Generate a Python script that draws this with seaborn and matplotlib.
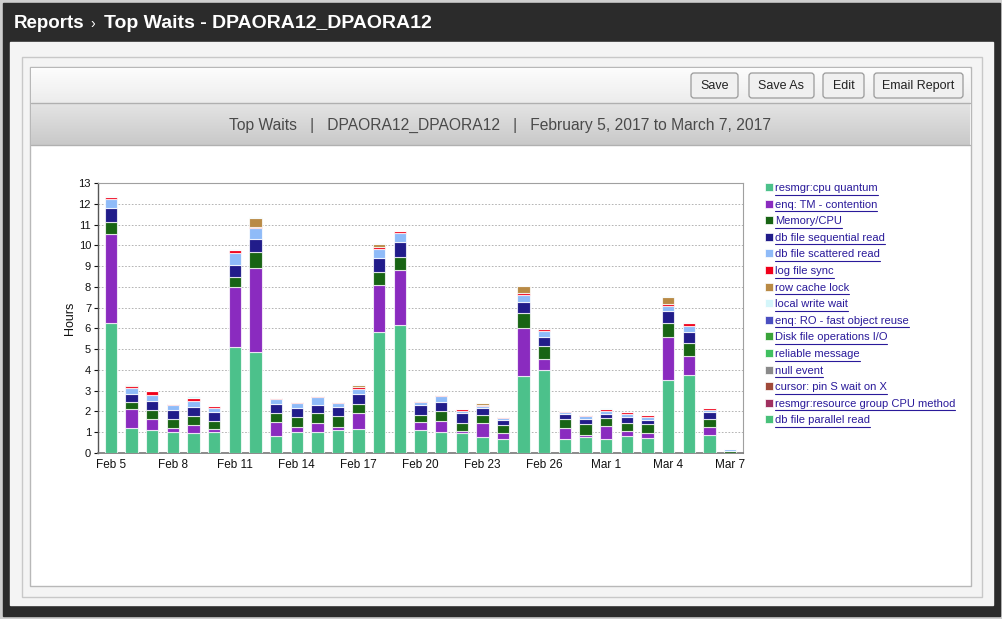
import matplotlib
matplotlib.use("Agg")
import matplotlib.pyplot as plt
from matplotlib.patches import Rectangle, FancyBboxPatch
import numpy as np
import pandas as pd
import seaborn as sns

# ---- data (hours per day) ----
days = ["Feb 5", "Feb 6", "Feb 7", "Feb 8", "Feb 9", "Feb 10", "Feb 11", "Feb 12",
        "Feb 13", "Feb 14", "Feb 15", "Feb 16", "Feb 17", "Feb 18", "Feb 19", "Feb 20",
        "Feb 21", "Feb 22", "Feb 23", "Feb 24", "Feb 25", "Feb 26", "Feb 27", "Feb 28",
        "Mar 1", "Mar 2", "Mar 3", "Mar 4", "Mar 5", "Mar 6", "Mar 7"]
tick_days = ["Feb 5", "Feb 8", "Feb 11", "Feb 14", "Feb 17", "Feb 20", "Feb 23",
             "Feb 26", "Mar 1", "Mar 4", "Mar 7"]

cpu_quantum = [6.24, 1.19, 1.09, 1.00, 0.95, 1.00, 5.12, 4.85, 0.83, 1.03, 1.00, 1.11, 1.16, 5.81, 6.16, 1.09,
               1.00, 0.95, 0.75, 0.69, 3.69, 3.98, 0.69, 0.79, 0.66, 0.80, 0.71, 3.50, 3.74, 0.88, 0.00]
tm_contention = [4.29, 0.91, 0.53, 0.19, 0.40, 0.14, 2.86, 4.04, 0.65, 0.24, 0.43, 0.16, 0.75, 2.26, 2.65, 0.39,
                 0.54, 0.09, 0.68, 0.26, 2.35, 0.53, 0.50, 0.09, 0.62, 0.24, 0.24, 2.10, 0.91, 0.36, 0.00]
memory_cpu = [0.61, 0.34, 0.43, 0.43, 0.42, 0.38, 0.51, 0.77, 0.46, 0.45, 0.51, 0.50, 0.45, 0.63, 0.64, 0.37,
              0.46, 0.40, 0.38, 0.38, 0.69, 0.63, 0.43, 0.50, 0.39, 0.39, 0.43, 0.68, 0.63, 0.38, 0.11]
seq_read = [0.67, 0.42, 0.44, 0.45, 0.46, 0.44, 0.58, 0.66, 0.40, 0.46, 0.39, 0.43, 0.47, 0.67, 0.71, 0.45,
            0.44, 0.47, 0.34, 0.24, 0.56, 0.46, 0.24, 0.27, 0.22, 0.32, 0.22, 0.57, 0.56, 0.34, 0.00]
scattered_read = [0.40, 0.29, 0.29, 0.23, 0.29, 0.22, 0.54, 0.50, 0.28, 0.23, 0.35, 0.19, 0.27, 0.45, 0.42, 0.17,
                  0.30, 0.13, 0.13, 0.13, 0.32, 0.29, 0.13, 0.13, 0.13, 0.14, 0.13, 0.24, 0.29, 0.13, 0.06]
log_file_sync = [0.10, 0.08, 0.22, 0.06, 0.11, 0.08, 0.15, 0.08, 0.03, 0.06, 0.06, 0.08, 0.09, 0.12, 0.09, 0.03,
                 0.05, 0.06, 0.05, 0.03, 0.08, 0.06, 0.05, 0.05, 0.08, 0.07, 0.10, 0.07, 0.15, 0.06, 0.00]
row_cache_lock = [0, 0.06, 0, 0, 0, 0, 0, 0.43, 0, 0, 0, 0, 0.08, 0.12, 0, 0,
                  0, 0, 0.08, 0, 0.34, 0, 0, 0, 0, 0, 0, 0.37, 0, 0, 0]
local_write_wait = [0.04, 0.03, 0, 0, 0.10, 0, 0.06, 0.03, 0, 0, 0, 0, 0.03, 0.04, 0.04, 0.07,
                    0, 0, 0, 0, 0.03, 0, 0, 0, 0.07, 0, 0, 0.04, 0.03, 0, 0]

series_names = ["resmgr:cpu quantum", "enq: TM - contention", "Memory/CPU", "db file sequential read",
                "db file scattered read", "log file sync", "row cache lock", "local write wait",
                "enq: RO - fast object reuse", "Disk file operations I/O", "reliable message",
                "null event", "cursor: pin S wait on X", "resmgr:resource group CPU method",
                "db file parallel read"]
series_colors = ["#4cc18b", "#8a2bbf", "#186414", "#211c8a", "#8fbbf8", "#f0001a", "#b98a45",
                 "#d4f6fa", "#4a4fc0", "#3aa33a", "#40c060", "#8a8a8a", "#a04a3a", "#a03060",
                 "#48c07a"]
series_values = [cpu_quantum, tm_contention, memory_cpu, seq_read, scattered_read,
                 log_file_sync, row_cache_lock, local_write_wait]

rows = []
for name, vals in zip(series_names, series_values):
    for i, v in enumerate(vals):
        if v > 0:
            rows.append({"day": i, "wait": name, "hours": v})
df = pd.DataFrame(rows)
drawn = series_names[:len(series_values)]
palette = dict(zip(series_names, series_colors))

# ---- figure ----
sns.set_theme(style="white")
plt.rcParams["font.family"] = ["Liberation Sans", "DejaVu Sans"]

W, H = 1003, 619
fig = plt.figure(figsize=(W / 100, H / 100), dpi=100)
fig.patch.set_facecolor("#cfcfcf")

bg = fig.add_axes([0, 0, 1, 1])
bg.set_xlim(0, W)
bg.set_ylim(H, 0)
bg.axis("off")

# page chrome
bg.add_patch(Rectangle((3, 3), W - 6, H - 6, color="#2b2b2b"))
bg.add_patch(Rectangle((10, 42), W - 20, 563, color="#f4f4f4"))
bg.add_patch(Rectangle((22, 57), 960, 540, facecolor="#f4f4f4", edgecolor="#c8c8c8", lw=1))
bg.add_patch(Rectangle((30, 67), 941, 519, facecolor="white", edgecolor="#b8b8b8", lw=1))
# toolbar + header gradients
grad = np.linspace(0, 1, 50).reshape(-1, 1)
bg.imshow(grad, extent=(31, 970, 103, 68), cmap=matplotlib.colors.LinearSegmentedColormap.from_list(
    "tb", ["#fdfdfd", "#ececec"]), aspect="auto", zorder=1)
bg.imshow(grad, extent=(31, 970, 145, 103), cmap=matplotlib.colors.LinearSegmentedColormap.from_list(
    "hd", ["#e4e4e4", "#c9c9c9"]), aspect="auto", zorder=1)
bg.plot([31, 970], [103, 103], color="#b0b0b0", lw=1, zorder=2)
bg.plot([31, 970], [145, 145], color="#b0b0b0", lw=1, zorder=2)

bg.text(14, 23, "Reports", color="white", fontsize=13.5, fontweight="bold", va="center")
bg.text(90, 24, "›", color="white", fontsize=10, va="center")
bg.text(104, 23, "Top Waits - DPAORA12_DPAORA12", color="white", fontsize=14,
        fontweight="bold", va="center")

for label, x0, x1 in [("Save", 691, 738), ("Save As", 749, 814), ("Edit", 823, 864),
                      ("Email Report", 874, 963)]:
    bg.add_patch(FancyBboxPatch((x0, 73), x1 - x0, 25, boxstyle="round,pad=0,rounding_size=3",
                                facecolor="#f0f0f0", edgecolor="#9a9a9a", lw=0.9, zorder=3))
    bg.text((x0 + x1) / 2, 86, label, ha="center", va="center", fontsize=9, color="#222222", zorder=4)

bg.text(500, 125, "Top Waits   |   DPAORA12_DPAORA12   |   February 5, 2017 to March 7, 2017",
        ha="center", va="center", fontsize=11.25, color="#4a4a4a", zorder=3)

# ---- chart ----
ax = fig.add_axes([98 / W, 1 - 453 / H, 645 / W, 270 / H])
ax.set_facecolor("white")
sns.histplot(data=df, x="day", weights="hours", hue="wait", hue_order=drawn[::-1],
             palette=palette, multiple="stack", discrete=True, shrink=0.6, alpha=1,
             edgecolor=(1, 1, 1, 0.75), linewidth=0.8, legend=False, ax=ax, zorder=3)

ax.set_xlim(-0.63, len(days) - 1 + 0.63)
ax.set_ylim(0, 13)
ax.set_yticks(range(0, 14))
ax.set_xticks([days.index(d) for d in tick_days])
ax.set_xticklabels(tick_days)
ax.tick_params(axis="x", length=0, labelsize=8.5, colors="#111111", pad=4)
ax.tick_params(axis="y", length=3, width=0.8, labelsize=8, colors="#111111", left=True, pad=2)
ax.set_xlabel("")
ax.set_ylabel("Hours", fontsize=9, color="#111111", labelpad=2)
ax.yaxis.grid(True, linestyle=(0, (2, 2)), color="#a8a8a8", lw=0.6, zorder=0)
ax.set_axisbelow(True)
for side in ["top", "right"]:
    ax.spines[side].set_color("#a0a0a0")
    ax.spines[side].set_linewidth(0.8)
ax.spines["left"].set_color("#555555")
ax.spines["bottom"].set_color("#777777")
ax.spines["left"].set_linewidth(1)
ax.spines["bottom"].set_linewidth(1.2)

# ---- legend (underlined links) ----
legend_texts = []
for i, (name, col) in enumerate(zip(series_names, series_colors)):
    yc = 188 + i * 16.6
    bg.add_patch(Rectangle((765, yc - 5), 8, 8, facecolor=col, edgecolor="white", lw=0.5, zorder=3))
    t = bg.text(775, yc, name, fontsize=8, color="#2a1a9a", va="center", zorder=3)
    legend_texts.append((t, yc))

fig.canvas.draw()
r = fig.canvas.get_renderer()
for t, yc in legend_texts:
    bb = t.get_window_extent(r)
    bg.plot([bb.x0, bb.x1], [yc + 6.5, yc + 6.5], color="#2a1a9a", lw=0.8, zorder=3)

fig.savefig("out.png", dpi=100, facecolor=fig.get_facecolor())
